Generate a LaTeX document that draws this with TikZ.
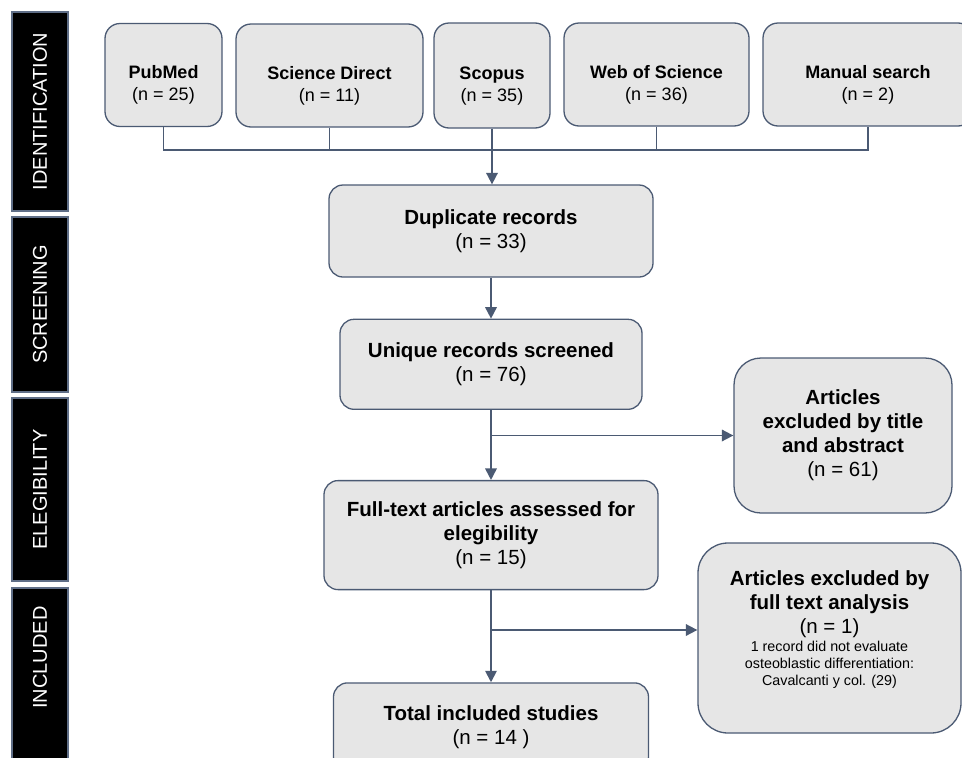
\documentclass[tikz,border=0pt]{standalone}
\usepackage{fontspec}
\setmainfont{Liberation Sans}
\usetikzlibrary{arrows.meta,positioning}
\definecolor{bordeC}{HTML}{4B5A73}
\definecolor{fondC}{HTML}{E6E6E6}
\definecolor{barreC}{HTML}{5F6E87}
\newcommand{\petit}{\fontsize{14.3}{17}\selectfont}
\tikzset{
  src/.style={rectangle, rounded corners=15pt, draw=bordeC, line width=1.3pt, fill=fondC,
              align=center, font=\fontsize{18}{22}\selectfont, minimum height=103pt, inner sep=0pt},
  flow/.style={rectangle, rounded corners=14pt, draw=bordeC, line width=1.3pt, fill=fondC,
               align=center, font=\fontsize{20.5}{24}\selectfont, inner sep=0pt},
  phase/.style={rectangle, draw=barreC, line width=1.2pt, fill=black, text=white, rotate=90,
                font=\fontsize{20}{24}\selectfont, minimum height=56pt, inner sep=0pt},
  arr/.style={-{Triangle[length=11.5pt,width=11.5pt]}, line width=1.8pt, draw=bordeC},
  lien/.style={line width=1.2pt, draw=bordeC},
}

\begin{document}
\begin{tikzpicture}[x=1pt, y=-1pt]
     \useasboundingbox (0,0) rectangle (962,758);
     % phases
     \node[phase, minimum width=199pt] (ident) at (40,111.5) {IDENTIFICATION};
     \node[phase, minimum width=175pt] (scr) at (40,304.5) {SCREENING};
     \node[phase, minimum width=183pt] (elig) at (40,489.5) {ELEGIBILITY};
     \node[phase, minimum width=187pt] (incl) at (40,681.5) {\hspace*{48pt}INCLUDED};
     % sources
     \node[src, minimum width=117pt] (pub) at (163.5,75) {\rule{0pt}{33pt}\textbf{PubMed}\\(n = 25)};
     \node[src, minimum width=187pt] (sd) at (329.5,75.5) {\rule{0pt}{33pt}\textbf{Science Direct}\\(n = 11)};
     \node[src, minimum width=116pt, minimum height=105pt] (sco) at (492,75.5) {\rule{0pt}{33pt}\textbf{Scopus}\\(n = 35)};
     \node[src, minimum width=185pt] (wos) at (656.5,74.5) {\rule{0pt}{33pt}\textbf{Web of Science}\\(n = 36)};
     \node[src, minimum width=210pt] (man) at (868,74.5) {\rule{0pt}{33pt}\textbf{Manual search}\\(n = 2)};
     % main column
     \node[flow, minimum width=324pt, minimum height=92pt] (dup) at (491,231) {\textbf{Duplicate records}\\(n = 33)};
     \node[flow, minimum width=302pt, minimum height=90pt, below=41pt of dup] (uniq) {\textbf{Unique records screened}\\(n = 76)};
     \node[flow, minimum width=334pt, minimum height=109pt, below=70pt of uniq] (full) {\textbf{Full-text articles assessed for}\\\textbf{elegibility}\\(n = 15)};
     \node[flow, minimum width=315pt, minimum height=88pt, below=92pt of full] (total) {\textbf{Total included studies}\\(n = 14\ )};
     % exclusions
     \node[flow, rounded corners=27pt, minimum width=218pt, minimum height=155pt] (exc1) at (843,435.5)
       {\textbf{Articles}\\\textbf{excluded by title}\\\textbf{and abstract}\\(n = 61)};
     \node[flow, rounded corners=30pt, minimum width=263pt, minimum height=190pt] (exc2) at (829.5,638)
       {\textbf{Articles excluded by}\\\textbf{full text analysis}\\(n = 1)\\[-6pt]\petit 1 record did not evaluate\\[-7pt]\petit osteoblastic differentiation:\\[-7pt]\petit Cavalcanti y col. (29)\rule[-19pt]{0pt}{19pt}};
     % connectors
     \coordinate (joint) at (492,150);
     \draw[lien] (pub.south) -- (pub.south |- joint) -- (man.south |- joint) -- (man.south);
     \draw[lien] (sd.south) -- (sd.south |- joint);
     \draw[lien] (wos.south) -- (wos.south |- joint);
     \draw[arr] (sco.south) -- (sco.south |- dup.north);
     \draw[arr] (dup) -- (uniq);
     \draw[arr] (uniq) -- (full);
     \draw[arr] (uniq.south |- exc1.west) -- (exc1.west);
     \draw[arr] (full) -- (total);
     \coordinate (b2) at ([yshift=8pt]exc2.west);
     \draw[arr] (full.south |- b2) -- (b2);
   \end{tikzpicture}
\end{document}
